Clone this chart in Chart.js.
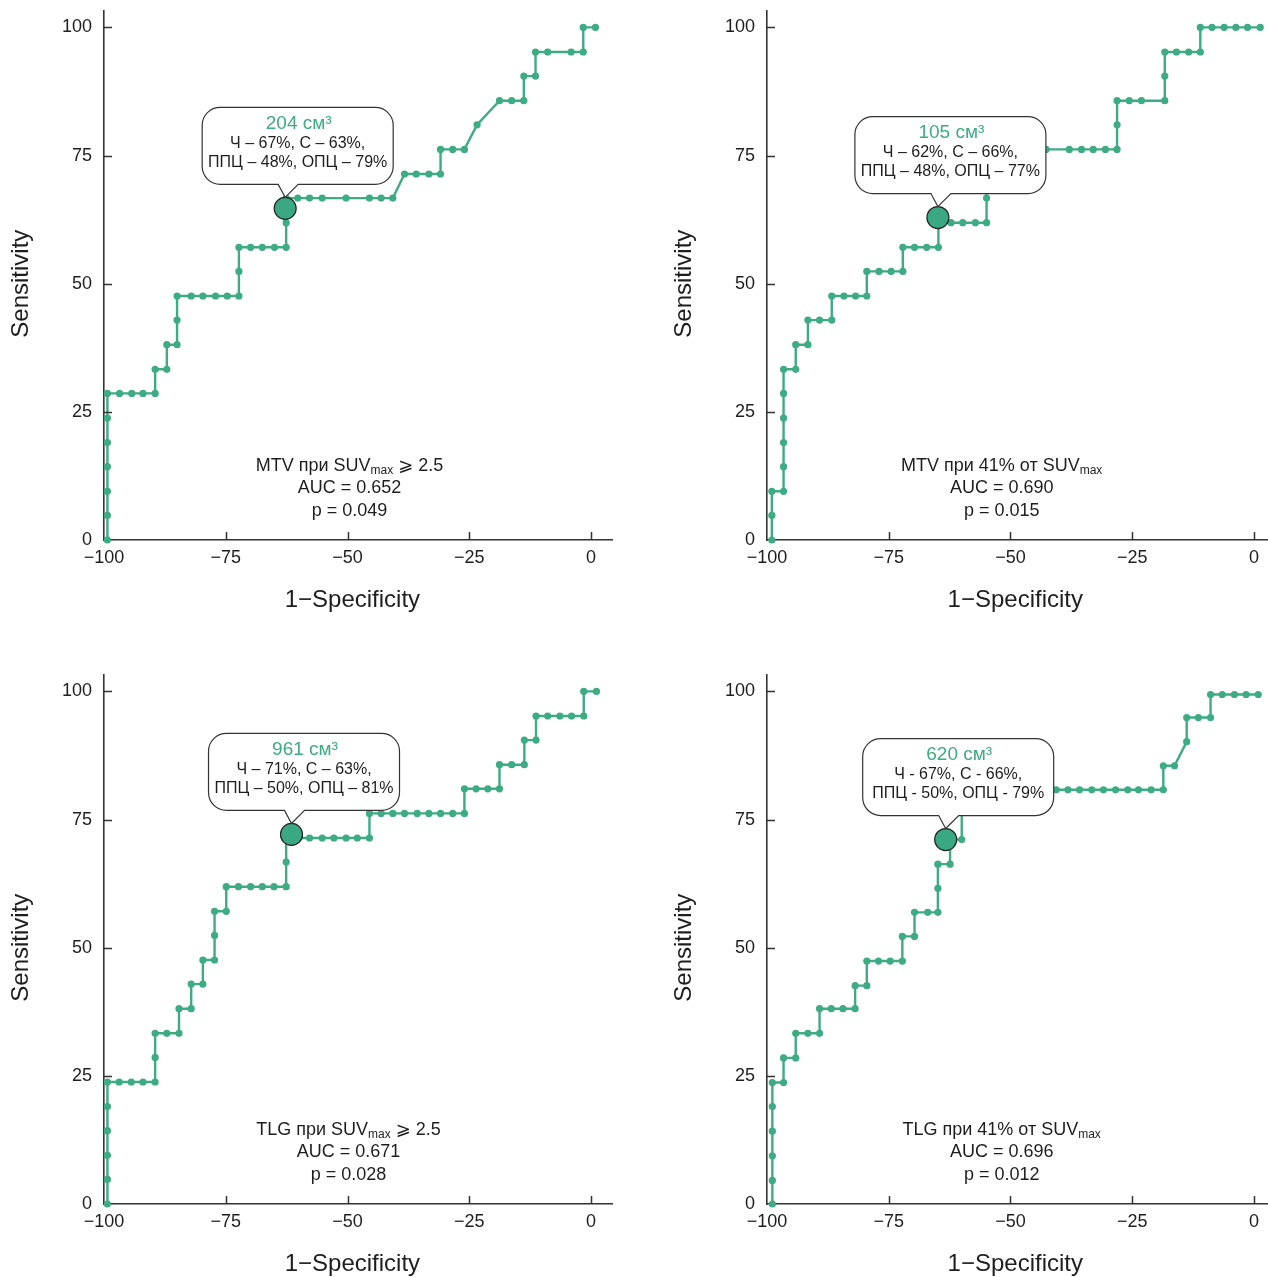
<!DOCTYPE html>
<html>
<head>
<meta charset="utf-8">
<script src="https://cdn.jsdelivr.net/npm/chart.js@4.4.0/dist/chart.umd.min.js"></script>
<style>
    body { margin: 0; background: #fff; }
    #page { position: relative; width: 1268px; height: 1277px; overflow: hidden; }
    canvas { position: absolute; }
</style>
</head>
<body>
<div id="page">
    <canvas id="chart1" width="634" height="613" style="left:0;top:0"></canvas>
    <canvas id="chart2" width="605" height="613" style="left:663px;top:0"></canvas>
    <canvas id="chart3" width="634" height="613" style="left:0;top:664px"></canvas>
    <canvas id="chart4" width="605" height="613" style="left:663px;top:664px"></canvas>
</div>
<script>
// tick labels
const xTicks = [-100, -75, -50, -25, 0];
const yTicks = [0, 25, 50, 75, 100];

// MTV при SUVmax >= 2.5
const mtvSuvX = [-99.3, -99.3, -99.3, -99.3, -99.3, -99.3, -99.3, -96.8, -94.3, -92.0, -89.5, -89.5, -87.1, -87.1, -85.0, -85.0, -85.0, -82.1, -79.7, -77.1, -74.7, -72.3, -72.3, -72.3, -69.9, -67.5, -65.0, -62.6, -62.6, -62.6, -60.2, -57.8, -55.2, -50.3, -45.5, -43.1, -40.7, -38.3, -35.9, -33.3, -30.9, -30.9, -28.4, -26.0, -23.4, -18.8, -16.3, -13.8, -13.8, -11.4, -11.4, -8.9, -4.1, -1.6, -1.6, 0.9];
const mtvSuvY = [0, 4.8, 9.5, 14.3, 19.0, 23.8, 28.6, 28.6, 28.6, 28.6, 28.6, 33.3, 33.3, 38.1, 38.1, 42.9, 47.6, 47.6, 47.6, 47.6, 47.6, 47.6, 52.4, 57.1, 57.1, 57.1, 57.1, 57.1, 61.9, 66.7, 66.7, 66.7, 66.7, 66.7, 66.7, 66.7, 66.7, 71.4, 71.4, 71.4, 71.4, 76.2, 76.2, 76.2, 81.0, 85.7, 85.7, 85.7, 90.5, 90.5, 95.2, 95.2, 95.2, 95.2, 100, 100];
const mtvSuvCut = [-62.8, 64.7];

// MTV при 41% от SUVmax
const mtv41X = [-99.0, -99.0, -99.0, -96.6, -96.6, -96.6, -96.6, -96.6, -96.6, -94.1, -94.1, -91.6, -91.6, -89.2, -86.7, -86.7, -84.2, -81.8, -79.5, -79.5, -77.0, -74.5, -72.1, -72.1, -69.7, -67.2, -64.8, -64.8, -62.2, -59.8, -57.2, -54.9, -54.9, -54.9, -54.9, -52.5, -50.1, -47.6, -45.2, -42.7, -37.9, -35.4, -33.0, -30.5, -28.1, -28.1, -28.1, -25.6, -23.1, -18.3, -18.3, -18.3, -15.9, -13.4, -11.0, -11.0, -8.6, -6.1, -3.7, -1.3, 1.3];
const mtv41Y = [0, 4.8, 9.5, 9.5, 14.3, 19.0, 23.8, 28.6, 33.3, 33.3, 38.1, 38.1, 42.9, 42.9, 42.9, 47.6, 47.6, 47.6, 47.6, 52.4, 52.4, 52.4, 52.4, 57.1, 57.1, 57.1, 57.1, 61.9, 61.9, 61.9, 61.9, 61.9, 66.7, 71.4, 76.2, 76.2, 76.2, 76.2, 76.2, 76.2, 76.2, 76.2, 76.2, 76.2, 76.2, 81.0, 85.7, 85.7, 85.7, 85.7, 90.5, 95.2, 95.2, 95.2, 95.2, 100, 100, 100, 100, 100, 100];
const mtv41Cut = [-64.9, 62.9];

// TLG при SUVmax >= 2.5
const tlgSuvX = [-99.3, -99.3, -99.3, -99.3, -99.3, -99.3, -96.9, -94.4, -92.0, -89.5, -89.5, -89.5, -87.1, -84.6, -84.6, -82.1, -82.1, -79.7, -79.7, -77.3, -77.3, -77.3, -74.9, -74.9, -72.4, -69.9, -67.5, -65.1, -62.6, -62.6, -62.6, -60.2, -57.8, -55.2, -52.8, -50.3, -48.0, -45.5, -45.5, -43.1, -40.7, -38.3, -35.7, -33.3, -30.9, -28.4, -26.0, -26.0, -23.6, -21.2, -18.8, -18.8, -16.3, -13.7, -13.7, -11.3, -11.3, -8.9, -6.4, -4.0, -1.5, -1.5, 1.1];
const tlgSuvY = [0, 4.8, 9.5, 14.3, 19.0, 23.8, 23.8, 23.8, 23.8, 23.8, 28.6, 33.3, 33.3, 33.3, 38.1, 38.1, 42.9, 42.9, 47.6, 47.6, 52.4, 57.1, 57.1, 61.9, 61.9, 61.9, 61.9, 61.9, 61.9, 66.7, 71.4, 71.4, 71.4, 71.4, 71.4, 71.4, 71.4, 71.4, 76.2, 76.2, 76.2, 76.2, 76.2, 76.2, 76.2, 76.2, 76.2, 81.0, 81.0, 81.0, 81.0, 85.7, 85.7, 85.7, 90.5, 90.5, 95.2, 95.2, 95.2, 95.2, 95.2, 100, 100];
const tlgSuvCut = [-61.5, 72.1];

// TLG при 41% от SUVmax
const tlg41X = [-98.9, -98.9, -98.9, -98.9, -98.9, -98.9, -96.6, -96.6, -94.1, -94.1, -91.6, -89.2, -89.2, -86.8, -84.4, -81.9, -81.9, -79.5, -79.5, -77.1, -74.7, -72.2, -72.2, -69.7, -69.7, -67.0, -64.9, -64.9, -64.9, -62.4, -62.4, -60.0, -60.0, -57.6, -55.1, -52.7, -50.3, -47.9, -45.4, -43.0, -40.6, -38.2, -35.8, -33.3, -30.9, -28.4, -25.9, -23.7, -21.1, -18.6, -18.6, -16.3, -13.8, -13.8, -11.4, -8.9, -8.9, -6.5, -4.0, -1.6, 0.9];
const tlg41Y = [0, 4.6, 9.4, 14.2, 19.0, 23.7, 23.7, 28.5, 28.5, 33.3, 33.3, 33.3, 38.1, 38.1, 38.1, 38.1, 42.6, 42.6, 47.4, 47.4, 47.4, 47.4, 52.2, 52.2, 56.9, 56.9, 56.9, 61.6, 66.3, 66.3, 71.1, 71.1, 80.8, 80.8, 80.8, 80.8, 80.8, 80.8, 80.8, 80.8, 80.8, 80.8, 80.8, 80.8, 80.8, 80.8, 80.8, 80.8, 80.8, 80.8, 85.5, 85.5, 90.2, 94.9, 94.9, 94.9, 99.4, 99.4, 99.4, 99.4, 99.4];
const tlg41Cut = [-63.3, 71.1];

// callout texts
const mtvSuvCallout = ['204 см³', 'Ч – 67%, С – 63%,', 'ППЦ – 48%, ОПЦ – 79%'];
const mtv41Callout = ['105 см³', 'Ч – 62%, С – 66%,', 'ППЦ – 48%, ОПЦ – 77%'];
const tlgSuvCallout = ['961 см³', 'Ч – 71%, С – 63%,', 'ППЦ – 50%, ОПЦ – 81%'];
const tlg41Callout = ['620 см³', 'Ч - 67%, С - 66%,', 'ППЦ - 50%, ОПЦ - 79%'];

// texts inside the plot (first line: text, subscript, rest)
const mtvSuvNote = [['MTV при SUV', 'max', ' ⩾ 2.5'], 'AUC = 0.652', 'p = 0.049'];
const mtv41Note = [['MTV при 41% от SUV', 'max', ''], 'AUC = 0.690', 'p = 0.015'];
const tlgSuvNote = [['TLG при SUV', 'max', ' ⩾ 2.5'], 'AUC = 0.671', 'p = 0.028'];
const tlg41Note = [['TLG при 41% от SUV', 'max', ''], 'AUC = 0.696', 'p = 0.012'];

const GREEN = '#3dab84';
const TEXT = '#1e1e1e';
const AXIS = '#333333';
const FONT = "'Liberation Sans', 'DejaVu Sans', Arial, sans-serif";

Chart.defaults.font.family = FONT;

function minusSign(value) {
    return String(value).replace('-', '−');
}

function calloutPath(ctx, x, y, w, h, r, tipX, tipY, baseL, baseR) {
    ctx.beginPath();
    ctx.moveTo(x + r, y);
    ctx.lineTo(x + w - r, y);
    ctx.arcTo(x + w, y, x + w, y + r, r);
    ctx.lineTo(x + w, y + h - r);
    ctx.arcTo(x + w, y + h, x + w - r, y + h, r);
    ctx.lineTo(baseR, y + h);
    ctx.lineTo(tipX, tipY);
    ctx.lineTo(baseL, y + h);
    ctx.lineTo(x + r, y + h);
    ctx.arcTo(x, y + h, x, y + h - r, r);
    ctx.lineTo(x, y + r);
    ctx.arcTo(x, y, x + r, y, r);
    ctx.closePath();
}

function drawSubLine(ctx, parts, cx, cy) {
    const [a, sub, b] = parts;
    ctx.font = '18px ' + FONT;
    const wa = ctx.measureText(a).width;
    const wb = ctx.measureText(b).width;
    ctx.font = '12px ' + FONT;
    const ws = ctx.measureText(sub).width;
    let x0 = cx - (wa + ws + wb) / 2;
    ctx.textAlign = 'left';
    ctx.font = '18px ' + FONT;
    ctx.fillText(a, x0, cy);
    ctx.font = '12px ' + FONT;
    ctx.fillText(sub, x0 + wa, cy + 5);
    ctx.font = '18px ' + FONT;
    ctx.fillText(b, x0 + wa + ws, cy);
}

// draws inward ticks, axis titles, the note and the callout box
const decorPlugin = {
    id: 'decor',
    afterDatasetsDraw(chart, args, opts) {
        const ctx = chart.ctx;
        const x = chart.scales.x;
        const y = chart.scales.y;
        const area = chart.chartArea;
        ctx.save();

        // callout box above the cut-off point
        const mx = x.getPixelForValue(opts.cut[0]);
        const my = y.getPixelForValue(opts.cut[1]);
        const bx = mx - 83, by = my - 101, bw = 191, bh = 77;
        calloutPath(ctx, bx, by, bw, bh, 18, mx, my - 11, mx - 7, mx + 13);
        ctx.fillStyle = '#fff';
        ctx.fill();
        ctx.strokeStyle = AXIS;
        ctx.lineWidth = 1.2;
        ctx.stroke();

        const cx = bx + bw / 2;
        ctx.textAlign = 'center';
        ctx.textBaseline = 'middle';
        ctx.fillStyle = GREEN;
        ctx.font = '19px ' + FONT;
        ctx.fillText(opts.callout[0], cx + 1, by + 16);
        ctx.fillStyle = TEXT;
        ctx.font = '16px ' + FONT;
        ctx.fillText(opts.callout[1], cx, by + 36);
        ctx.fillText(opts.callout[2], cx, by + 55);

        // note with AUC and p
        const nx = x.getPixelForValue(opts.noteX);
        drawSubLine(ctx, opts.note[0], nx, y.getPixelForValue(14.4));
        ctx.textAlign = 'center';
        ctx.font = '18px ' + FONT;
        ctx.fillText(opts.note[1], nx, y.getPixelForValue(10.1));
        ctx.fillText(opts.note[2], nx, y.getPixelForValue(5.7));

        // inward tick marks
        ctx.strokeStyle = AXIS;
        ctx.lineWidth = 1.5;
        ctx.beginPath();
        xTicks.slice(1).forEach(v => {
            const px = Math.round(x.getPixelForValue(v)) + 0.5;
            ctx.moveTo(px, area.bottom);
            ctx.lineTo(px, area.bottom - 8);
        });
        yTicks.slice(1).forEach(v => {
            const py = Math.round(y.getPixelForValue(v)) + 0.5;
            ctx.moveTo(area.left, py);
            ctx.lineTo(area.left + 8, py);
        });
        ctx.stroke();

        // axis titles
        ctx.fillStyle = TEXT;
        ctx.font = '24px ' + FONT;
        ctx.textAlign = 'center';
        ctx.fillText('1−Specificity', x.getPixelForValue(-49), area.bottom + 60);
        ctx.translate(area.left - 83, y.getPixelForValue(50));
        ctx.rotate(-Math.PI / 2);
        ctx.fillText('Sensitivity', 0, 0);
        ctx.restore();
    }
};

function fixWidth(size, key) {
    return scale => {
        scale[key] = size;
        scale.paddingTop = 0;
        scale.paddingBottom = 0;
        scale.paddingLeft = 0;
        scale.paddingRight = 0;
    };
}

function makePanel(id, xs, ys, cut, callout, note, noteX, xMax, padRight) {
    const points = xs.map((v, i) => ({ x: v, y: ys[i] }));
    new Chart(document.getElementById(id), {
        type: 'scatter',
        data: {
            datasets: [{
                data: points,
                showLine: true,
                borderColor: GREEN,
                borderWidth: 2.4,
                pointRadius: 3.6,
                pointBackgroundColor: GREEN,
                pointBorderWidth: 0,
                clip: false,
                order: 2
            }, {
                data: [{ x: cut[0], y: cut[1] }],
                showLine: false,
                pointRadius: 11,
                pointBackgroundColor: '#3aa882',
                pointBorderColor: '#262626',
                pointBorderWidth: 1.2,
                clip: false,
                order: 1
            }]
        },
        options: {
            responsive: false,
            animation: false,
            layout: { autoPadding: false, padding: { top: 11, right: padRight, left: 0, bottom: 0 } },
            plugins: {
                legend: { display: false },
                tooltip: { enabled: false },
                decor: { cut: cut, callout: callout, note: note, noteX: noteX }
            },
            scales: {
                x: {
                    type: 'linear',
                    min: -100,
                    max: xMax,
                    afterBuildTicks: s => { s.ticks = xTicks.map(v => ({ value: v })); },
                    afterFit: fixWidth(73, 'height'),
                    grid: { display: false, drawTicks: false },
                    border: { color: AXIS, width: 1.6 },
                    ticks: {
                        autoSkip: false,
                        maxRotation: 0,
                        padding: 7,
                        color: TEXT,
                        font: { size: 18 },
                        callback: minusSign
                    }
                },
                y: {
                    type: 'linear',
                    min: 0,
                    max: 103.2,
                    afterBuildTicks: s => { s.ticks = yTicks.map(v => ({ value: v })); },
                    afterFit: fixWidth(104, 'width'),
                    grid: { display: false, drawTicks: false },
                    border: { color: AXIS, width: 1.6 },
                    ticks: {
                        autoSkip: false,
                        padding: 12,
                        color: TEXT,
                        font: { size: 18 }
                    }
                }
            }
        },
        plugins: [decorPlugin]
    });
}

makePanel('chart1', mtvSuvX, mtvSuvY, mtvSuvCut, mtvSuvCallout, mtvSuvNote, -49.6, 4.3, 22);
makePanel('chart2', mtv41X, mtv41Y, mtv41Cut, mtv41Callout, mtv41Note, -51.8, 2.9, 0);
makePanel('chart3', tlgSuvX, tlgSuvY, tlgSuvCut, tlgSuvCallout, tlgSuvNote, -49.8, 4.3, 22);
makePanel('chart4', tlg41X, tlg41Y, tlg41Cut, tlg41Callout, tlg41Note, -51.8, 2.9, 0);
</script>
</body>
</html>
